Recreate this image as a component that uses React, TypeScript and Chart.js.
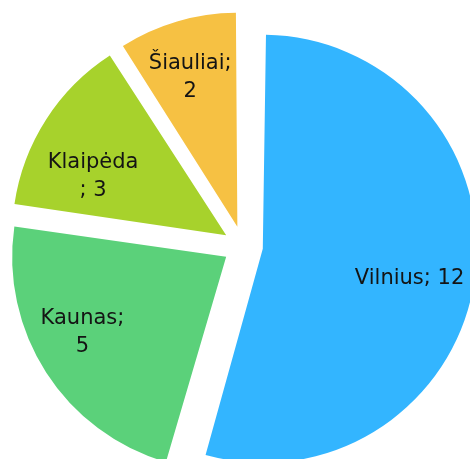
import React, { useEffect, useRef } from "react";
import { Chart, registerables } from "chart.js";

Chart.register(...registerables);

const cities = ["Vilnius", "Kaunas", "Klaipėda", "Šiauliai"];
const counts = [12, 5, 3, 2];
const sliceColors = ["#33B5FF", "#5BD17A", "#A7D22C", "#F6C143"];
// label text lines (as wrapped in the original)
const labelLines = [["Vilnius; 12"], ["Kaunas;", "5"], ["Klaipėda", "; 3"], ["Šiauliai;", "2"]];
// label placement: fraction of radius and angular nudge (degrees)
const labelRadius = [0.7, 0.76, 0.68, 0.73];
const labelNudge = [3.4, 4.8, -8.9, -1.2];

const GAP = 20; // explode distance in px
const RADIUS = 214;
const CANVAS_W = 486;
const CANVAS_H = 492;

// Chart.js translates an arc by offset/4 and grows its radius by offset/4 * fix;
// compensate the radius growth so every slice keeps the same radius.
const explodePlugin = {
  id: "explodeFix",
  beforeDatasetsDraw(chart: any) {
    const meta = chart.getDatasetMeta(0);
    meta.data.forEach((arc: any) => {
      const circ = arc.endAngle - arc.startAngle;
      const fix = 1 - Math.sin(Math.min(Math.PI, circ));
      arc.outerRadius = RADIUS - GAP * fix;
    });
  },
};

const labelPlugin = {
  id: "sliceLabels",
  afterDatasetsDraw(chart: any) {
    const ctx = chart.ctx;
    const meta = chart.getDatasetMeta(0);
    ctx.save();
    ctx.font = "21px 'DejaVu Sans'";
    ctx.fillStyle = "#141414";
    ctx.textAlign = "center";
    ctx.textBaseline = "middle";
    meta.data.forEach((arc: any, i: number) => {
      const mid = (arc.startAngle + arc.endAngle) / 2;
      const bx = arc.x + Math.cos(mid) * GAP;
      const by = arc.y + Math.sin(mid) * GAP;
      const a = mid + (labelNudge[i] * Math.PI) / 180;
      const cx = bx + Math.cos(a) * RADIUS * labelRadius[i];
      const cy = by + Math.sin(a) * RADIUS * labelRadius[i];
      const lines = labelLines[i];
      const lh = 28;
      lines.forEach((line, j) => {
        ctx.fillText(line, cx, cy + (j - (lines.length - 1) / 2) * lh);
      });
    });
    ctx.restore();
  },
};

export default function App() {
  const ref = useRef<HTMLCanvasElement>(null);
  useEffect(() => {
    if (!ref.current) return;
    const chart = new Chart(ref.current, {
      type: "pie",
      data: {
        labels: cities,
        datasets: [
          {
            data: counts,
            backgroundColor: sliceColors,
            borderWidth: 0,
            radius: RADIUS,
            offset: GAP * 4,
          } as any,
        ],
      },
      options: {
        responsive: false,
        animation: false,
        events: [],
        layout: { padding: 0 },
        plugins: {
          legend: { display: false },
          tooltip: { enabled: false },
        },
      },
      plugins: [explodePlugin, labelPlugin],
    });
    return () => chart.destroy();
  }, []);
  return (
    <div
      style={{
        position: "fixed",
        left: 0,
        top: 0,
        width: 470,
        height: 459,
        overflow: "hidden",
        background: "#fff",
      }}
    >
      <canvas ref={ref} width={CANVAS_W} height={CANVAS_H} style={{ display: "block" }} />
    </div>
  );
}
